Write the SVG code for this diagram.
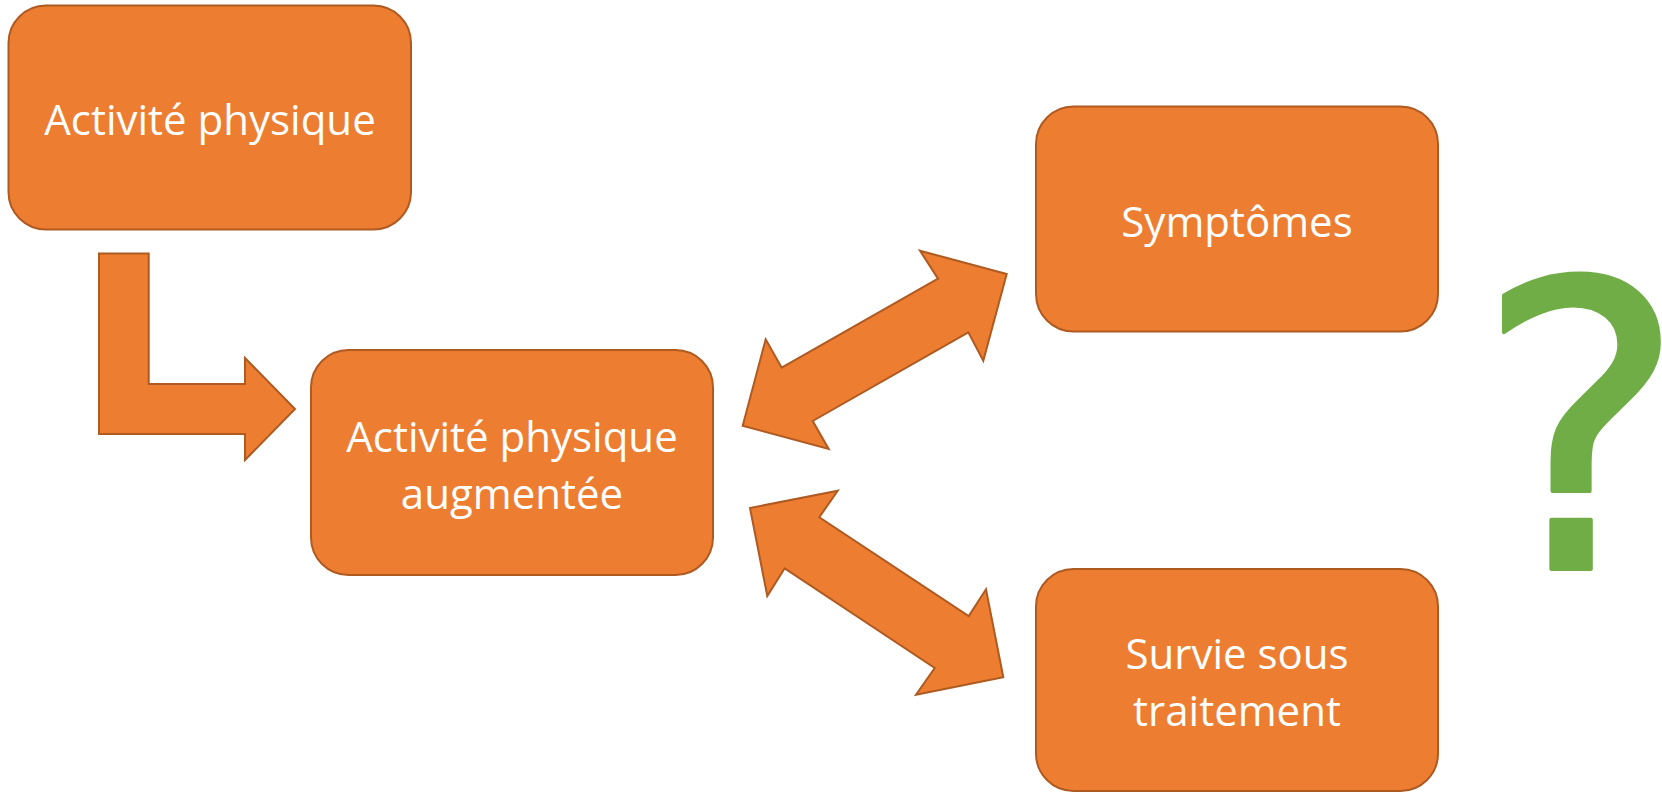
<svg xmlns="http://www.w3.org/2000/svg" width="1662" height="794" viewBox="0 0 1662 794">
  <style>
    .box { fill: #ED7D31; stroke: #AE5A21; stroke-width: 2; }
    .arrow { fill: #ED7D31; stroke: #AE5A21; stroke-width: 2; stroke-linejoin: miter; }
    .label { fill: #FFFFFF; font-family: "Open Sans", "Liberation Sans", sans-serif; font-size: 42px; text-anchor: middle; }
    .qmark { fill: #70AD47; stroke: #70AD47; stroke-width: 4; stroke-linejoin: round; font-family: "DejaVu Sans", sans-serif; font-size: 398px; font-weight: 400; text-anchor: middle; }
  </style>
  <rect width="1662" height="794" fill="#FFFFFF"/>

  <g id="connectors">
    <polygon id="bent-arrow" class="arrow" points="99,253.5 148.7,253.5 148.7,384 245,384 245,358 295,409 245,460 245,434 99,434"/>
    <polygon id="arrow-symptomes" class="arrow" points="920,250.7 1006.7,274 983.3,360.7 968.3,332.3 812.7,421 828.7,449 742.7,425.7 765.7,339.3 781.7,367.7 938,278.7"/>
    <polygon id="arrow-survie" class="arrow" points="837.7,490.7 819.3,517.3 968.7,616 986,589.3 1003.3,677.3 916,694.7 934.7,668 784.7,568.3 767.3,596 750,508"/>
  </g>

  <g id="node-activite">
    <rect class="box" x="8.5" y="5.5" width="402.5" height="224" rx="37.5" ry="37.5"/>
    <text class="label" x="210" y="135">Activité physique</text>
  </g>

  <g id="node-activite-augmentee">
    <rect class="box" x="311" y="350" width="402" height="225" rx="37.5" ry="37.5"/>
    <text class="label" x="512" y="452">Activité physique</text>
    <text class="label" x="512" y="509">augmentée</text>
  </g>

  <g id="node-symptomes">
    <rect class="box" x="1036" y="106.5" width="402" height="225" rx="37.5" ry="37.5"/>
    <text class="label" x="1237" y="237">Symptômes</text>
  </g>

  <g id="node-survie">
    <rect class="box" x="1036" y="569" width="402" height="222" rx="37.5" ry="37.5"/>
    <text class="label" x="1237" y="669">Survie sous</text>
    <text class="label" x="1237" y="726">traitement</text>
  </g>

  <g id="question-mark">
    <text class="qmark" x="1581" y="569">?</text>
  </g>
</svg>
